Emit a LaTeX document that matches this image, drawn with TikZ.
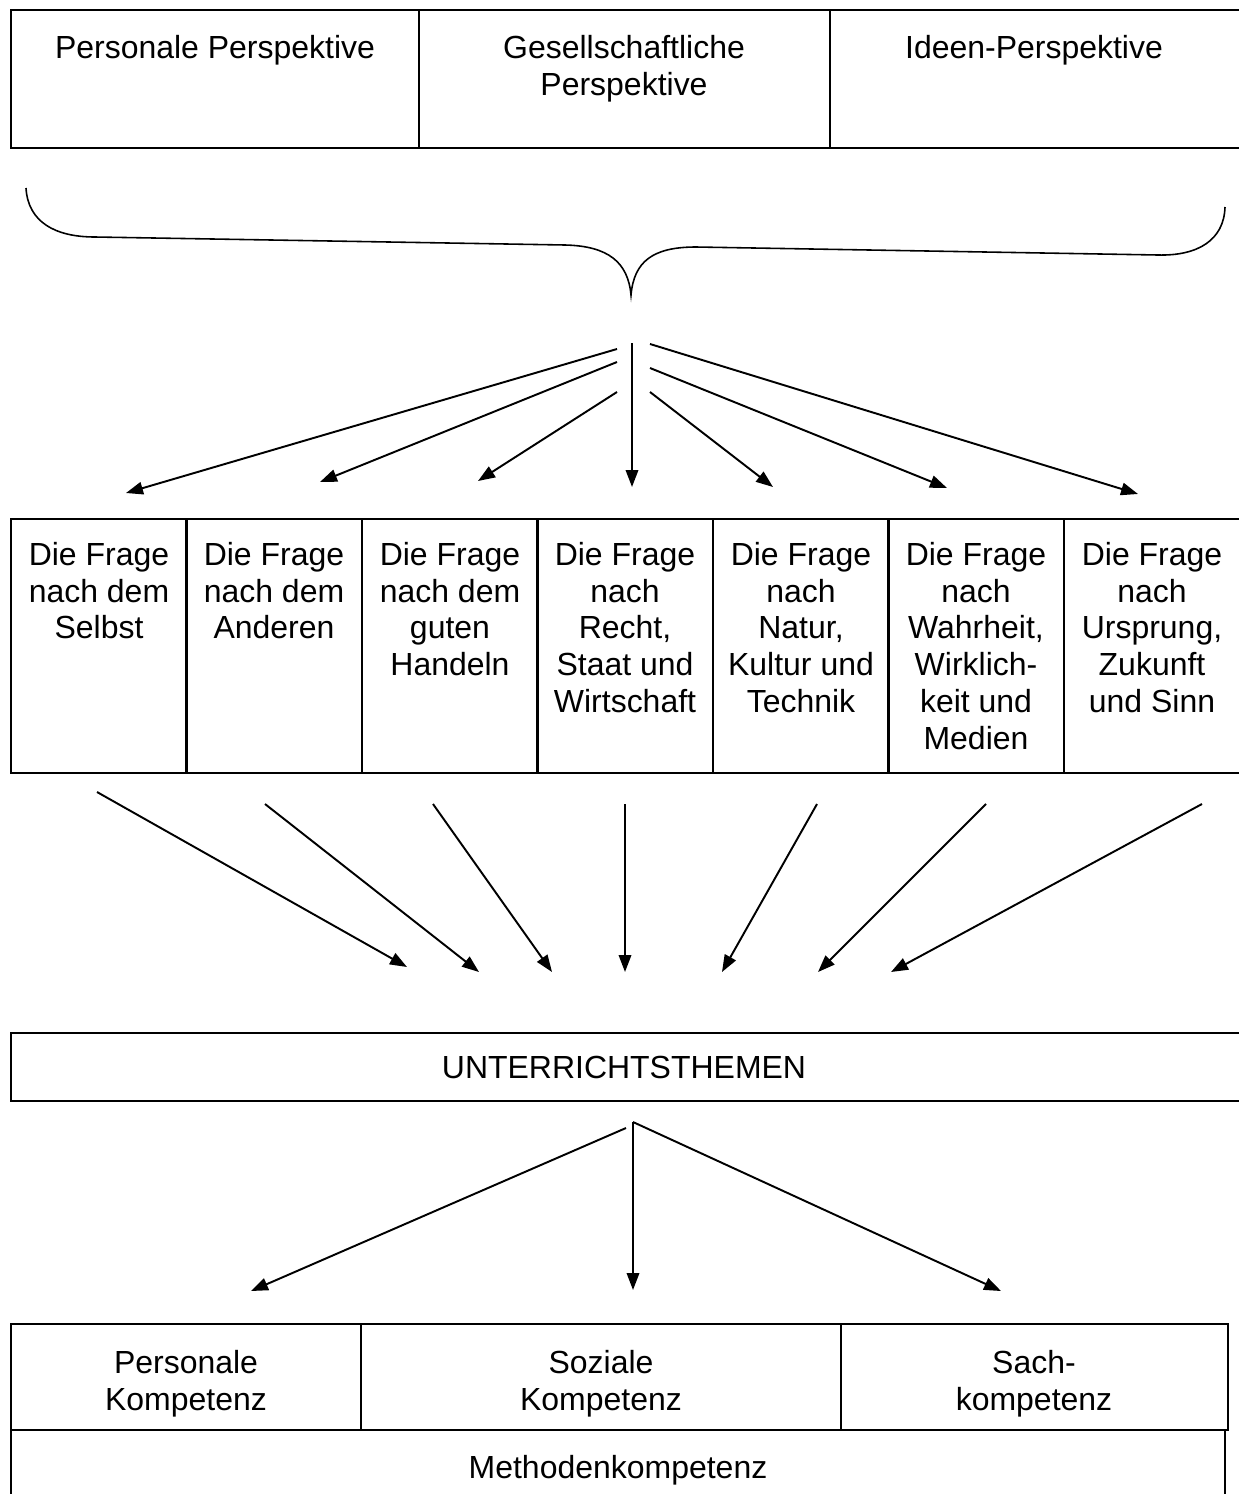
\documentclass[tikz,border=0pt]{standalone}
\usepackage{fontspec}
\setmainfont{Liberation Sans}
\usetikzlibrary{arrows.meta}

\tikzset{
  frame/.style={line width=1.4pt},
  lbl/.style={font=\fontsize{18.2}{20.9}\selectfont, align=center, anchor=north, inner sep=0pt},
  arr/.style={-{Triangle[length=0.34cm, width=0.25cm]}, line width=1.1pt},
}

\begin{document}
\begin{tikzpicture}[x=0.02cm, y=-0.02cm]
    \useasboundingbox (0, 0) rectangle (1239, 1494);

    % perspectives
    \draw [frame] (11, 10) rectangle (1241, 148);
    \foreach \x in {419, 830}
      \draw [frame] (\x, 10) -- (\x, 148);
    \node [lbl] (pers) at (215, 35) {Personale Perspektive};
    \node [lbl] (ges) at (624, 35) {Gesellschaftliche\\Perspektive};
    \node [lbl] (ideen) at (1034, 35) {Ideen-Perspektive};

    % brace
    \draw [line width=0.9pt] (26, 188) .. controls (28, 222) and (55, 237) .. (95, 237)
      -- (565, 245) .. controls (608, 246) and (628, 262) .. (631, 295)
      .. controls (634, 262) and (652, 247) .. (696, 247)
      -- (1158, 255) .. controls (1198, 256) and (1224, 240) .. (1225, 207);

    \foreach \n/\sx/\sy/\ex/\ey in {1/617/349/126/493, 2/617/362/320/482, 3/617/392/478/481,
        4/632/343/632/487, 5/650/392/773/487, 6/650/368/947/488, 7/650/344/1138/494} {
      \coordinate (fa\n) at (\sx, \sy);
      \coordinate (fb\n) at (\ex, \ey);
      \draw [arr] (fa\n) -- (fb\n);
    }

    % questions
    \draw [frame] (11, 519) rectangle (1241, 773);
    \foreach \x in {186.5, 362, 537.5, 713, 888.5, 1064}
      \draw [frame] (\x, 519) -- (\x, 773);
    \node [lbl] (q1) at (99, 542) {Die Frage\\nach dem\\Selbst};
    \node [lbl] (q2) at (274, 542) {Die Frage\\nach dem\\Anderen};
    \node [lbl] (q3) at (450, 542) {Die Frage\\nach dem\\guten\\Handeln};
    \node [lbl] (q4) at (625, 542) {Die Frage\\nach\\Recht,\\Staat und\\Wirtschaft};
    \node [lbl] (q5) at (801, 542) {Die Frage\\nach\\Natur,\\Kultur und\\Technik};
    \node [lbl] (q6) at (976, 542) {Die Frage\\nach\\Wahrheit,\\Wirklich-\\keit und\\Medien};
    \node [lbl] (q7) at (1152, 542) {Die Frage\\nach\\Ursprung,\\Zukunft\\und Sinn};

    \foreach \n/\sx/\sy/\ex/\ey in {1/97/792/407/967, 2/265/804/479/972, 3/433/804/552/972,
        4/625/804/625/972, 5/817/804/722/972, 6/986/804/818/972, 7/1202/804/891/972} {
      \coordinate (qa\n) at (\sx, \sy);
      \coordinate (qb\n) at (\ex, \ey);
      \draw [arr] (qa\n) -- (qb\n);
    }

    % topics
    \draw [frame] (11, 1033) rectangle (1241, 1101);
    \node [lbl, anchor=center] (themen) at (624, 1067) {UNTERRICHTSTHEMEN};

    \coordinate (ta0) at (626, 1128);
    \coordinate (ta1) at (633, 1122);
    \coordinate (k1) at (251, 1291);
    \coordinate (k2) at (633, 1290);
    \coordinate (k3) at (1001, 1291);
    \draw [arr] (ta0) -- (k1);
    \draw [arr] (ta1) -- (k2);
    \draw [arr] (ta1) -- (k3);

    % competences
    \draw [frame] (11, 1324) rectangle (1228, 1430);
    \foreach \x in {361, 841}
      \draw [frame] (\x, 1324) -- (\x, 1430);
    \draw [frame] (11, 1430) -- (11, 1497) (1225, 1430) -- (1225, 1497);
    \node [lbl] (pk) at (186, 1350) {Personale\\Kompetenz};
    \node [lbl] (sk) at (601, 1350) {Soziale\\Kompetenz};
    \node [lbl] (sachk) at (1034, 1350) {Sach-\\kompetenz};
    \node [lbl] (mk) at (618, 1455) {Methodenkompetenz};
\end{tikzpicture}
\end{document}
